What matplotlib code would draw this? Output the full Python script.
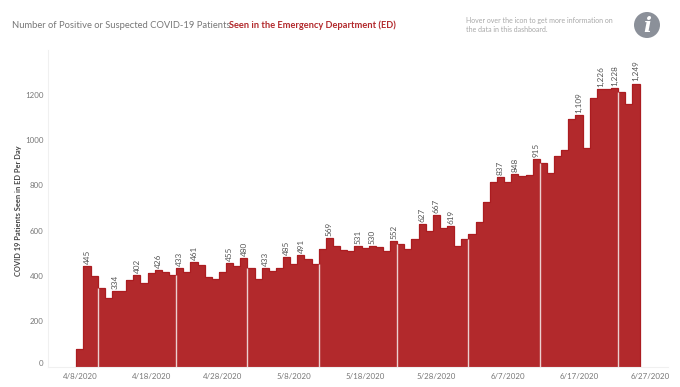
import datetime as dt
import matplotlib
matplotlib.use("Agg")
import matplotlib.pyplot as plt
import matplotlib.dates as mdates
from matplotlib.patches import Circle

# Patients per day, starting on 4/8/2020
first_day = dt.date(2020, 4, 8)
patients = [
  78, 445, 400, 348, 304, 334, 334, 380, 402, 367,
  412, 426, 416, 402, 433, 416, 461, 449, 393, 386,
  418, 455, 444, 480, 435, 388, 433, 420, 435, 485,
  451, 491, 475, 454, 518, 569, 533, 514, 511, 531,
  522, 530, 527, 508, 552, 539, 517, 564, 627, 597,
  667, 611, 619, 533, 564, 584, 636, 725, 816, 837,
  813, 848, 843, 845, 915, 900, 853, 929, 956, 1091,
  1109, 963, 1183, 1226, 1225, 1228, 1210, 1159, 1249,
]
# Positions in the series that carry a value label
labeled = [1, 5, 8, 11, 14, 16, 21, 23, 26, 29, 31, 35, 39, 41, 44, 48, 50, 52,
           59, 61, 64, 70, 73, 75, 78]
# Pale seams between some of the bars
seams = [3, 14, 24, 34, 45, 55, 65, 76]
y_ticks = [0, 200, 400, 600, 800, 1000, 1200]
x_tick_offsets = [0, 10, 20, 30, 40, 50, 60, 70, 80]

title_left = "Number of Positive or Suspected COVID-19 Patients "
title_right = "Seen in the Emergency Department (ED)"
hint_lines = ["Hover over the icon to get more information on", "the data in this dashboard."]
y_title = "COVID 19 Patients Seen in ED Per Day"

RED = "#b2292c"
W, H = 680, 387

plt.rcParams["font.family"] = ["Lato", "DejaVu Sans"]
fig = plt.figure(figsize=(W / 100, H / 100), dpi=100)
ax = fig.add_axes([48 / W, 1 - 366.5 / H, 620 / W, 316.5 / H])

days = [mdates.date2num(first_day + dt.timedelta(days=i)) for i in range(len(patients))]
start = days[0]

ax.bar(days, patients, width=1.0, color=RED, linewidth=0)
# Slightly darker outline along the top of the bars
edges = [d - 0.5 for d in days] + [days[-1] + 0.5]
ax.stairs(patients, edges, baseline=0, color="#ab1c20", linewidth=0.9)

for s in seams:
  top = min(patients[s - 1], patients[s])
  ax.vlines(days[s] - 0.5, 0, top, color="#eccfcf", linewidth=1.0)

for i in labeled:
  ax.annotate(f"{patients[i]:,}", (days[i], patients[i]), xytext=(0, 1.5), textcoords="offset points",
              rotation=90, ha="center", va="bottom", fontsize=5.9, color="#555555")

ax.set_xlim(start - 4.47, start + 82.48)
ax.set_ylim(0, 1397)

x_ticks = [start + o for o in x_tick_offsets]
x_labels = []
for o in x_tick_offsets:
  d = first_day + dt.timedelta(days=o)
  x_labels.append(f"{d.month}/{d.day}/{d.year}")
ax.set_xticks(x_ticks)
ax.set_xticklabels(x_labels)
ax.set_yticks(y_ticks)
ax.tick_params(axis="both", length=0, labelsize=5.7, labelcolor="#777777")
ax.tick_params(axis="x", pad=5)
ax.tick_params(axis="y", pad=3)
# The zero label sits above the baseline
ax.get_yticklabels()[0].set_va("bottom")

for side in ["top", "right"]:
  ax.spines[side].set_visible(False)
for side in ["left", "bottom"]:
  ax.spines[side].set_color("#f0f0f0")
  ax.spines[side].set_linewidth(0.8)

fig.text(19 / W, 1 - 211 / H, y_title, rotation=90, ha="center", va="center",
         fontsize=5.4, fontweight="bold", color="#444444")

# Title in two colours
fig.text(12 / W, 1 - 25.5 / H, title_left, ha="left", va="center", fontsize=6.75, color="#777777")
fig.text(229 / W, 1 - 25.5 / H, title_right, ha="left", va="center", fontsize=6.65,
         fontweight="bold", color="#b2292c")

fig.text(466 / W, 1 - 20.5 / H, hint_lines[0], ha="left", va="center", fontsize=5.0, color="#a8a8a8")
fig.text(466 / W, 1 - 29.5 / H, hint_lines[1], ha="left", va="center", fontsize=5.0, color="#a8a8a8")

# Info icon
icon = fig.add_axes([(647 - 14) / W, 1 - (25 + 14) / H, 28 / W, 28 / H])
icon.set_xlim(-14, 14)
icon.set_ylim(-14, 14)
icon.axis("off")
icon.add_patch(Circle((0, 0), 13, color="#8b9099", linewidth=0))
icon.text(0, -0.5, "i", ha="center", va="center", fontsize=15, fontweight="bold", fontstyle="italic",
          family="DejaVu Serif", color="white")

fig.savefig("out.png", dpi=100)
